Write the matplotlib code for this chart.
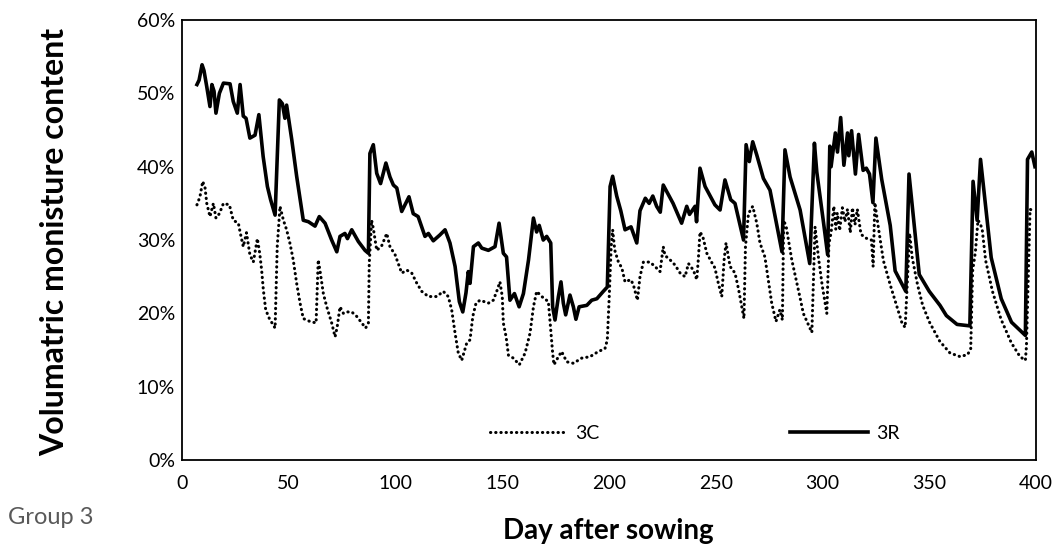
import matplotlib.pyplot as plt
from matplotlib.ticker import FuncFormatter

# 3R (solid) - day, moisture %
day_3r = [7, 8, 9.4, 10.3, 11.6, 13.1, 14, 15, 15.9, 17.5, 19.4, 22.5, 24, 25.9, 27.2,
          28.7, 30, 31.8, 34.2, 36, 38, 40, 41.5, 43.6, 45.6, 47, 48.2, 49, 51.4,
          53.7, 56.8, 59.2, 62.3, 64.3, 67, 70.1, 72.5, 74, 76.3, 77.5, 79.5, 82.6,
          85.7, 87.3, 88, 89.6, 91.2, 93, 95.5, 97.4, 99, 100.6, 102.9, 106.3, 108.3,
          110.6, 113.8, 115.4, 117.7, 120.8, 123.2, 125.5, 127.9, 129.9, 131.5, 133,
          134.1, 134.9, 136.5, 138.8, 140.4, 143.5, 146.6, 148.5, 150.5, 152, 153.6,
          155.7, 157.9, 159.9, 162.3, 164.6, 166.1, 167.3, 169.2, 170.8, 172.7, 173.6,
          174.7, 176.3, 177.5, 178.6, 179.7, 181.7, 183.3, 184.5, 186, 189.6, 191.9,
          194.3, 197.3, 199.2, 200.5, 201.7, 203.6, 205.5, 207.5, 210.3, 213, 214.5,
          217, 218.8, 220.5, 222.3, 224, 225.4, 227.8, 230, 234, 236.4, 237.7, 240.3,
          241, 242.6, 245, 249.6, 252, 254.3, 257, 259, 263, 264.2, 265.7, 267.3,
          269.2, 272.3, 275.4, 281, 282.4, 284.8, 289.5, 294, 296.2, 297.3, 300.5,
          302.4, 303.4, 304, 306, 307, 308.5, 310, 311.7, 312.3, 313.6, 315.4, 316.9,
          319, 320.5, 322, 323.6, 325, 327.7, 331.7, 334, 339, 340.5, 345.3, 350, 355,
          358, 363, 369, 370.5, 372.4, 374, 379, 383.7, 388.5, 395, 396, 398, 399.5]
val_3r = [51.2, 51.8, 53.9, 53.1, 50.9, 48.2, 51.2, 50.3, 47.3, 50, 51.4, 51.3, 48.9,
          47.3, 51.2, 46.9, 46.6, 43.9, 44.3, 47.1, 41.4, 37.3, 35.5, 33.4, 49.1,
          48.6, 46.6, 48.4, 43.7, 38.7, 32.7, 32.5, 31.9, 33.2, 32.3, 30, 28.4, 30.5,
          30.9, 30.2, 31.4, 29.8, 28.6, 28.2, 41.8, 43, 39.1, 37.7, 40.5, 38.6, 37.5,
          37.1, 33.9, 35.9, 33.6, 33.2, 30.5, 30.9, 29.9, 30.7, 31.4, 29.6, 26.4,
          21.6, 20.2, 22.8, 25.7, 24.1, 29.1, 29.6, 28.9, 28.6, 29.1, 32.3, 28.2,
          27.7, 21.8, 22.7, 20.9, 22.7, 27.3, 33, 31.1, 32, 30, 30.5, 29.6, 20.9,
          19.1, 22.3, 24.3, 21.4, 19.8, 22.5, 20.9, 19.2, 20.9, 21.1, 21.8, 22, 23,
          23.6, 37.3, 38.7, 36, 34, 31.4, 31.8, 29.6, 34, 35.7, 35, 36, 34.6, 33.8,
          37.5, 36.2, 35, 32.3, 34.6, 33.5, 34.6, 32.5, 39.8, 37.3, 34.8, 34.1, 38.2,
          35.5, 35, 30, 43, 40.7, 43.4, 41.6, 38.4, 36.8, 28.4, 42.3, 38.6, 34.1,
          26.8, 43.2, 39.3, 32.3, 28, 42.8, 40, 44.6, 42, 46.7, 40.2, 44.6, 41.5,
          44.9, 39, 44.4, 39.5, 39.8, 39, 35.1, 43.9, 38.3, 32, 25.8, 23, 39, 25.3,
          23, 21.1, 19.7, 18.5, 18.3, 38, 32.7, 41, 27.6, 22, 18.8, 17, 41, 42, 40]

# 3C (dotted) - day, moisture %
day_3c = [7, 8.4, 9.7, 10.8, 11.6, 13.1, 14.7, 15.9, 17.5, 19.4, 22.2, 24, 26.4, 27.2,
          28.7, 30.2, 31.8, 33.4, 35.3, 36.4, 37.3, 38.1, 39.2, 40.9, 43.6, 44.6,
          45.9, 47.5, 49, 50.6, 52.1, 53.7, 55.3, 56.8, 59.9, 62.8, 63.8, 64.6, 66.2,
          67.8, 70.1, 71.7, 72.7, 74, 75.6, 77.1, 79.5, 81.8, 84.2, 86, 87.3, 87.7,
          88.8, 89.6, 91.2, 93.5, 95.9, 97.4, 99.8, 102.9, 105.3, 107.6, 110, 112.3,
          115.4, 119.3, 122.4, 124.7, 126.3, 127.9, 129.4, 131, 133.3, 134.9, 136.2,
          137.7, 139.6, 143.5, 145.8, 147.4, 148.9, 150, 150.5, 151.8, 152.9, 155.2,
          158, 160.7, 163, 164.6, 166.1, 168.5, 171.6, 172.8, 173.6, 174.2, 176.3,
          177.8, 180.2, 183.3, 187.2, 191.1, 195, 198.1, 199.2, 200.1, 201, 201.7,
          202.7, 204.4, 206, 207.5, 210.2, 211.4, 213.3, 214.5, 216.1, 219.2, 221.5,
          223.9, 225.4, 226.2, 228.6, 230.9, 233.3, 235.6, 237.2, 239.5, 241.1,
          241.9, 242.6, 243.9, 245.8, 248, 249.6, 251.2, 252.8, 253.9, 254.8, 256.7,
          259, 260.6, 262.2, 263.2, 263.9, 265.3, 267.3, 269.2, 270.7, 273, 274.6,
          276.2, 278.2, 280, 281.2, 281.8, 283, 285.6, 288, 289.5, 291, 294.1, 295,
          296.5, 298.1, 299.8, 301.4, 302, 303, 304, 305.3, 306.2, 306.9, 308, 309.3,
          310.5, 311.7, 313, 314, 315.2, 316.3, 318, 320, 322.9, 323.7, 324.5, 326.1,
          328.5, 331.7, 334.9, 337.3, 338.7, 340.8, 342, 344.5, 346.9, 350.1, 354.9,
          359.7, 364.5, 368, 369.4, 370.3, 371.6, 372.8, 373.8, 374.8, 376.4, 379.6,
          383.6, 388.4, 392.5, 395, 395.5, 397.2, 398.5]
val_3c = [34.8, 35.9, 38, 37.1, 35, 33.2, 35, 33, 33.6, 35, 34.8, 32.7, 32.3, 31.1,
          29.1, 31, 28, 27, 30.2, 28.2, 25.9, 23.2, 20.5, 19.3, 18, 29.1, 34.6, 32.7,
          31.4, 29.5, 27.3, 24.1, 21.4, 19.3, 18.9, 18.7, 27.3, 25.9, 22.7, 20.9,
          18.7, 16.8, 18.2, 20.9, 20, 20.2, 20.2, 19.6, 18.7, 18, 18.7, 26.8, 32.7,
          31.6, 28.6, 29.2, 30.9, 29.1, 28, 25.5, 25.9, 25.5, 24.1, 23, 22.3, 22.3,
          23, 22.3, 20.5, 17.3, 14.6, 13.6, 15.9, 16.4, 19.6, 21.4, 21.8, 21.4, 21.8,
          23, 24.3, 22.3, 18.7, 16.8, 14.3, 13.9, 13, 14.6, 17.3, 20.9, 23, 22.3,
          21.6, 17.3, 14.6, 13, 14.1, 14.8, 13.4, 13.2, 13.9, 14.1, 14.8, 15.2, 16.4,
          22.3, 29.1, 31.4, 28.6, 27, 26.2, 24.3, 24.6, 23.9, 21.8, 25, 27, 27, 26.4,
          25.7, 29.1, 27.9, 27.3, 26.6, 25.5, 25, 26.8, 25.9, 24.6, 27.7, 31.1, 30.5,
          28.2, 27, 26.2, 24.1, 22.3, 27.3, 29.6, 26.4, 25.5, 23.4, 20.9, 19.3, 29.1,
          33.6, 34.6, 32.3, 29.6, 27.7, 24.6, 21.4, 18.9, 20.5, 19.1, 32.7, 31.8,
          27.3, 24.1, 22.1, 20, 18, 17.4, 31.8, 27.6, 23.9, 21.1, 20, 29.5, 31, 34.6,
          31.5, 33.7, 31.3, 34.4, 32.5, 34.2, 31, 34.4, 32.1, 34.2, 30.8, 30.3, 30,
          26.4, 35.1, 31.8, 27.2, 23.9, 20.9, 18.6, 18.1, 30.9, 27.6, 23.9, 21.1,
          18.8, 16.2, 14.6, 14.1, 14.4, 15.2, 25.8, 28.4, 32.7, 32.3, 31.4, 27.2, 23,
          19.2, 16, 14.1, 13.6, 15.5, 34.2, 34]

y_ticks = [0, 10, 20, 30, 40, 50, 60]
x_ticks = [0, 50, 100, 150, 200, 250, 300, 350, 400]

plt.rcParams['font.family'] = ['Lato', 'DejaVu Sans']

fig = plt.figure(figsize=(10.6, 5.53), dpi=100)
ax = fig.add_axes([0.1717, 0.168, 0.8057, 0.7958])

ax.plot(day_3c, val_3c, color='black', lw=2.2, linestyle=(0, (0.1, 1.6)),
        dash_capstyle='round', label='3C')
ax.plot(day_3r, val_3r, color='black', lw=2.6, solid_joinstyle='round', label='3R')

ax.set_xlim(0, 400)
ax.set_ylim(0, 60)
ax.set_xticks(x_ticks)
ax.set_yticks(y_ticks)
ax.yaxis.set_major_formatter(FuncFormatter(lambda v, p: '%d%%' % v))
ax.tick_params(length=0, labelsize=14)
ax.tick_params(axis='x', pad=11)
ax.tick_params(axis='y', pad=5)
for s in ax.spines.values():
    s.set_linewidth(1.3)

ax.set_xlabel('Day after sowing', fontsize=20, fontweight='bold', va='center')
ax.set_ylabel('Volumatric monisture content', fontsize=23, fontweight='bold', va='center')
ax.xaxis.set_label_coords(0.499, -0.16)
ax.yaxis.set_label_coords(-0.149, 0.495)

ax.legend(loc='center', bbox_to_anchor=(0.6, 0.06), ncol=2, frameon=False,
          fontsize=14, handlelength=4, columnspacing=9.8, handletextpad=0.4)

fig.text(0.008, 0.065, 'Group 3', fontsize=17, color='#595959', va='center')

plt.savefig('out.png', dpi=100)
